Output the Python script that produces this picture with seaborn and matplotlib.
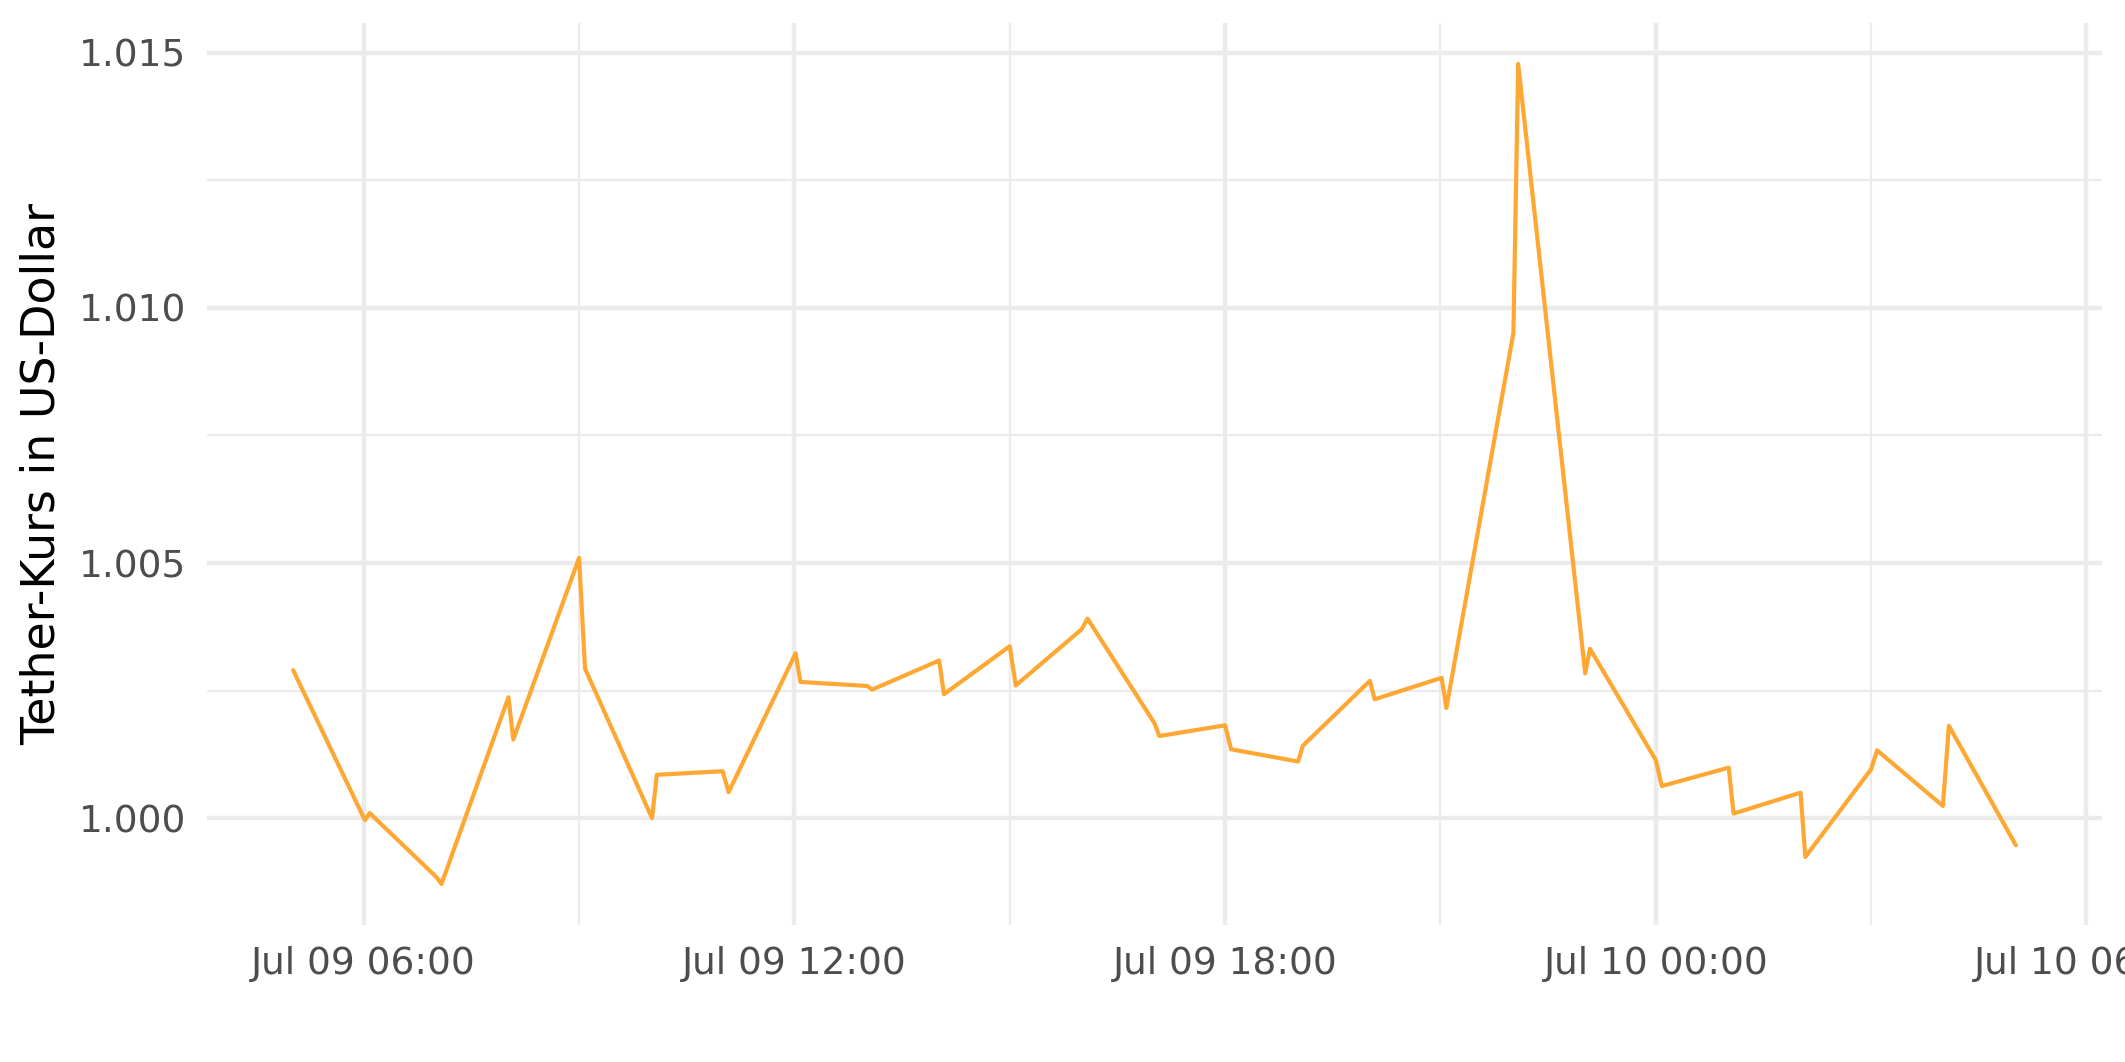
import matplotlib
matplotlib.use("Agg")
import matplotlib.pyplot as plt
import matplotlib.dates as mdates
from matplotlib.ticker import MultipleLocator, FormatStrFormatter
import seaborn as sns
import pandas as pd

# ---- data ----
timestamps = [
    "2019-07-09 05:01", "2019-07-09 06:01", "2019-07-09 06:05",
    "2019-07-09 07:01", "2019-07-09 07:05", "2019-07-09 08:01",
    "2019-07-09 08:05", "2019-07-09 09:00", "2019-07-09 09:05",
    "2019-07-09 10:01", "2019-07-09 10:05", "2019-07-09 11:00",
    "2019-07-09 11:05", "2019-07-09 12:01", "2019-07-09 12:05",
    "2019-07-09 13:01", "2019-07-09 13:05", "2019-07-09 14:01",
    "2019-07-09 14:05", "2019-07-09 15:00", "2019-07-09 15:05",
    "2019-07-09 16:00", "2019-07-09 16:05", "2019-07-09 17:01",
    "2019-07-09 17:05", "2019-07-09 18:00", "2019-07-09 18:05",
    "2019-07-09 19:01", "2019-07-09 19:05", "2019-07-09 20:01",
    "2019-07-09 20:05", "2019-07-09 21:01", "2019-07-09 21:05",
    "2019-07-09 22:01", "2019-07-09 22:05", "2019-07-09 23:01",
    "2019-07-09 23:05", "2019-07-10 00:00", "2019-07-10 00:05",
    "2019-07-10 01:01", "2019-07-10 01:05", "2019-07-10 02:01",
    "2019-07-10 02:05", "2019-07-10 03:00", "2019-07-10 03:05",
    "2019-07-10 04:00", "2019-07-10 04:05", "2019-07-10 05:01",
]
prices = [
    1.00290, 0.99996, 1.00010,
    0.99884, 0.99871, 1.00237,
    1.00154, 1.00510, 1.00293,
    1.00000, 1.00085, 1.00092,
    1.00051, 1.00323, 1.00267,
    1.00259, 1.00252, 1.00309,
    1.00243, 1.00337, 1.00260,
    1.00370, 1.00391, 1.00186,
    1.00161, 1.00182, 1.00135,
    1.00111, 1.00142, 1.00269,
    1.00233, 1.00275, 1.00216,
    1.00951, 1.01478, 1.00284,
    1.00332, 1.00114, 1.00063,
    1.00099, 1.00009, 1.00050,
    0.99924, 1.00096, 1.00133,
    1.00024, 1.00181, 0.99947,
]
y_label = "Tether-Kurs in US-Dollar"

df = pd.DataFrame({"time": pd.to_datetime(timestamps), "price": prices})

sns.set_theme(style="white")
plt.rcParams["font.family"] = ["DejaVu Sans"]

fig = plt.figure(figsize=(2125 / 300, 1062 / 300), dpi=300)
ax = fig.add_axes([207 / 2125, 1 - 925 / 1062, (2102 - 207) / 2125, (925 - 23) / 1062])

sns.lineplot(data=df, x="time", y="price", ax=ax, color="#FFA733",
             linewidth=1.0, zorder=3)

ax.margins(x=0.05, y=0.05)

# axes styling (ggplot theme_minimal look)
for s in ax.spines.values():
    s.set_visible(False)

ax.xaxis.set_major_locator(mdates.HourLocator(byhour=[0, 6, 12, 18]))
ax.xaxis.set_minor_locator(mdates.HourLocator(byhour=[3, 9, 15, 21]))
ax.xaxis.set_major_formatter(mdates.DateFormatter("%b %d %H:%M"))
ax.yaxis.set_major_locator(MultipleLocator(0.005))
ax.yaxis.set_minor_locator(MultipleLocator(0.0025))
ax.yaxis.set_major_formatter(FormatStrFormatter("%.3f"))

ax.grid(True, which="major", color="#EBEBEB", linewidth=1.07, zorder=0)
ax.grid(True, which="minor", color="#EBEBEB", linewidth=0.53, zorder=0)
ax.set_axisbelow(True)

ax.tick_params(axis="both", which="both", length=0)
ax.tick_params(axis="y", which="major", labelsize=9.0, labelcolor="#4D4D4D", pad=5)
ax.tick_params(axis="x", which="major", labelsize=9.0, labelcolor="#4D4D4D", pad=5)

ax.set_xlabel("")
ax.set_ylabel(y_label, fontsize=11, color="black", labelpad=3.5)

fig.savefig("out.png", dpi=300, facecolor="white")
